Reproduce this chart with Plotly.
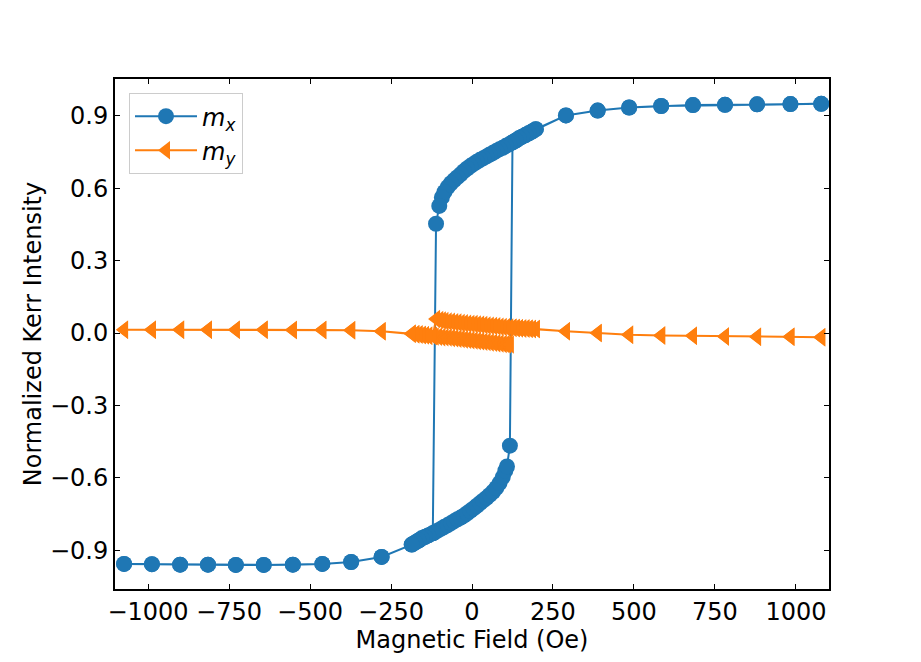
import plotly.graph_objects as go

# field sweep segments (Oe)
outer_left_x = [-1074, -988, -901, -815, -729, -643, -553, -462, -373, -279]
outer_left_mx = [-0.957, -0.958, -0.960, -0.960, -0.961, -0.961, -0.960, -0.957, -0.949, -0.928]
outer_left_my = [0.014, 0.014, 0.014, 0.014, 0.014, 0.014, 0.013, 0.013, 0.012, 0.007]

lower_x = [-186, -175, -165, -155, -145, -135, -121, -115, -105, -95, -85, -75, -65, -55, -45, -35,
           -25, -15, -5, 5, 15, 25, 35, 45, 55, 65, 75, 85, 95, 103, 108, 117]
lower_mx = [-0.877, -0.868, -0.860, -0.851, -0.845, -0.839, -0.830, -0.826, -0.818, -0.811, -0.803,
            -0.796, -0.788, -0.780, -0.772, -0.765, -0.757, -0.747, -0.737, -0.727, -0.716, -0.705,
            -0.694, -0.683, -0.671, -0.658, -0.642, -0.622, -0.597, -0.570, -0.553, -0.467]
lower_my = [-0.003, -0.005, -0.006, -0.008, -0.009, -0.011, -0.012, -0.014, -0.015, -0.017, -0.018,
            -0.019, -0.021, -0.022, -0.024, -0.025, -0.027, -0.028, -0.030, -0.031, -0.033, -0.034,
            -0.036, -0.037, -0.039, -0.040, -0.042, -0.043, -0.045, -0.046, -0.047, -0.048]

upper_x = [-111, -101, -93, -85, -75, -65, -55, -45, -35, -25, -15, -5, 5, 15, 25, 35,
           45, 55, 65, 75, 85, 95, 105, 115, 125, 135, 145, 155, 165, 175, 185, 197]
upper_mx = [0.453, 0.527, 0.562, 0.585, 0.605, 0.621, 0.634, 0.646, 0.658, 0.671, 0.682, 0.692,
            0.701, 0.710, 0.718, 0.725, 0.732, 0.740, 0.747, 0.755, 0.762, 0.768, 0.776, 0.783,
            0.790, 0.798, 0.807, 0.814, 0.821, 0.828, 0.835, 0.845]
upper_my = [0.058, 0.054, 0.052, 0.050, 0.048, 0.047, 0.045, 0.044, 0.042, 0.041, 0.039, 0.038,
            0.037, 0.035, 0.034, 0.033, 0.031, 0.030, 0.029, 0.028, 0.026, 0.025, 0.024, 0.023,
            0.022, 0.021, 0.020, 0.019, 0.019, 0.018, 0.017, 0.017]

outer_right_x = [290, 388, 485, 584, 682, 781, 880, 983, 1078]
outer_right_mx = [0.902, 0.922, 0.935, 0.941, 0.945, 0.946, 0.948, 0.949, 0.950]
outer_right_my = [0.007, 0.000, -0.007, -0.010, -0.011, -0.014, -0.015, -0.015, -0.017]

x_ticks = [-1000, -750, -500, -250, 0, 250, 500, 750, 1000]
x_labels = ["\u22121000", "\u2212750", "\u2212500", "\u2212250", "0", "250", "500", "750", "1000"]
y_ticks = [-0.9, -0.6, -0.3, 0.0, 0.3, 0.6, 0.9]
y_labels = ["\u22120.9", "\u22120.6", "\u22120.3", "0.0", "0.3", "0.6", "0.9"]


def sweep(left, lower, upper, right):
    # up sweep: lower branch, jump at +Hc, then down sweep on upper branch, jump at -Hc
    up_start = next(i for i, v in enumerate(upper_x) if v >= 120)
    dn_end = next(i for i, v in enumerate(lower_x) if v > -120)
    up = left + lower + upper[up_start:] + right
    down = right[::-1] + upper[::-1] + lower[:dn_end][::-1] + left[::-1]
    return up + down


H = sweep(outer_left_x, lower_x, upper_x, outer_right_x)
MX = sweep(outer_left_mx, lower_mx, upper_mx, outer_right_mx)
MY = sweep(outer_left_my, lower_my, upper_my, outer_right_my)

font = "DejaVu Sans, Verdana, sans-serif"
FS = 24

fig = go.Figure()
fig.add_trace(go.Scatter(
    x=H, y=MX, mode="lines+markers", name="<i>m<sub>x</sub></i>",
    line=dict(color="#1f77b4", width=2),
    marker=dict(symbol="circle", size=16, color="#1f77b4"),
))
fig.add_trace(go.Scatter(
    x=H, y=MY, mode="lines+markers", name="<i>m<sub>y</sub></i>",
    line=dict(color="#ff7f0e", width=2),
    marker=dict(symbol="triangle-left", size=16, color="#ff7f0e"),
))

axis_style = dict(
    showline=True, linecolor="black", linewidth=2, mirror="ticks",
    ticks="inside", ticklen=5, tickwidth=1.2, tickcolor="black",
    showgrid=False, zeroline=False,
    tickfont=dict(family=font, size=FS, color="black"),
)

fig.update_xaxes(
    range=[-1102, 1102], tickvals=x_ticks, ticktext=x_labels,
    title=dict(text="Magnetic Field (Oe)", font=dict(family=font, size=FS, color="black"), standoff=2),
    **axis_style,
)
fig.update_yaxes(
    range=[-1.061, 1.053], tickvals=y_ticks, ticktext=y_labels,
    title=dict(text="Normalized Kerr Intensity", font=dict(family=font, size=FS, color="black"), standoff=2),
    **axis_style,
)

# the page body adds 8px margin, so the figure is 8px smaller and margins shifted
fig.update_layout(
    width=913, height=654,
    margin=dict(l=107, r=92, t=71, b=73),
    plot_bgcolor="white", paper_bgcolor="white",
    font=dict(family=font, size=FS, color="black"),
    showlegend=True,
    legend=dict(
        x=0.0196, y=0.9725, xanchor="left", yanchor="top",
        bgcolor="rgba(255,255,255,0.8)", bordercolor="#cccccc", borderwidth=1,
        font=dict(family=font, size=FS, color="black"),
        itemwidth=62,
    ),
)

fig.write_html("out.html")
